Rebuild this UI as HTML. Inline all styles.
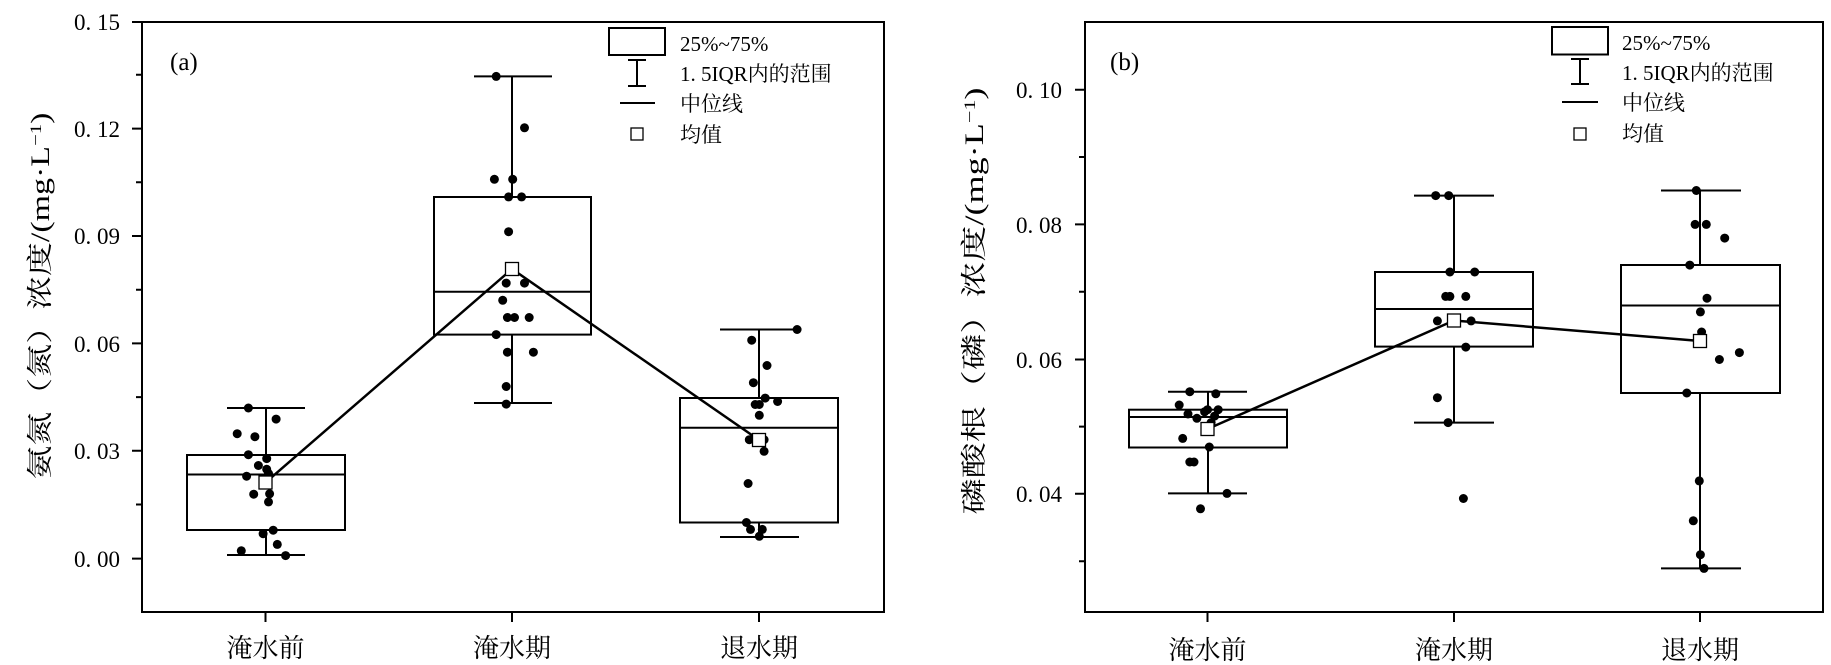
<!DOCTYPE html>
<html><head><meta charset="utf-8"><style>
html,body{margin:0;padding:0;background:#fff;}
svg{display:block;}
text{fill:#000;}
.t{font-family:"Liberation Serif","Noto Serif CJK SC",serif;font-size:23px;}
.c{font-family:"Liberation Serif","Noto Serif CJK SC",serif;font-size:26px;}
.l{font-family:"Liberation Serif","Noto Serif CJK SC",serif;font-size:21px;}
.y{font-family:"Liberation Serif","Noto Serif CJK SC",serif;font-size:26px;}
</style></head><body>
<svg width="1831" height="665" viewBox="0 0 1831 665" xmlns="http://www.w3.org/2000/svg">
<g stroke="#000" stroke-width="2" fill="none">
<rect x="142" y="22" width="742" height="590"/>
<path d="M132 22H142M132 128.6H142M132 236H142M132 343.4H142M132 450.8H142M132 558.6H142M136 74.8H142M136 182.3H142M136 289.7H142M136 397.1H142M136 504.5H142"/>
<path d="M265.5 612V622M512 612V622M759 612V622"/>
<rect x="187" y="455" width="158" height="75"/>
<path d="M187 474.5H345M266 455V408M266 530V555M227 408H305M227 555H305"/>
<rect x="434" y="197" width="157" height="137.6"/>
<path d="M434 291.7H591M512 197V76.4M512 334.6V403M474 76.4H552M474 403H552"/>
<rect x="680" y="398" width="158" height="124.5"/>
<path d="M680 427.7H838M759 398V329.5M759 522.5V537M720 329.5H799M720 537H799"/>
<path d="M265.5 482.6L512 269L759 440" stroke-width="2.5"/>
<rect x="609" y="28" width="56" height="27"/>
<path d="M637 60V86M628 60H646M628 86H646M620 103H655"/>
<rect x="1085" y="22" width="738" height="590"/>
<path d="M1075 89.7H1085M1075 224.4H1085M1075 359.5H1085M1075 493.8H1085M1079 157H1085M1079 291.7H1085M1079 426.6H1085M1079 561.3H1085"/>
<path d="M1207.5 612V622M1454 612V622M1700 612V622"/>
<rect x="1129" y="409.7" width="158" height="37.8"/>
<path d="M1129 417H1287M1208 409.7V391.7M1208 447.5V493.4M1168 391.7H1247M1168 493.4H1247"/>
<rect x="1375" y="272" width="158" height="74.6"/>
<path d="M1375 309H1533M1454 272V195.6M1454 346.6V422.6M1414 195.6H1494M1414 422.6H1494"/>
<rect x="1621" y="265" width="159" height="128"/>
<path d="M1621 305.5H1780M1700 265V190.5M1700 393V568.4M1661 190.5H1741M1661 568.4H1741"/>
<path d="M1207.5 429L1454 320.5L1700 341" stroke-width="2.5"/>
<rect x="1552" y="27" width="56" height="27.5"/>
<path d="M1580 59V84M1571 59H1589M1571 84H1589M1562 102H1598"/>
</g>
<g fill="#000">
<circle cx="248.4" cy="408" r="4.5"/><circle cx="276.1" cy="419.1" r="4.5"/><circle cx="237.2" cy="433.7" r="4.5"/><circle cx="254.9" cy="436.7" r="4.5"/><circle cx="248.4" cy="454.7" r="4.5"/><circle cx="266.7" cy="458.6" r="4.5"/><circle cx="258.4" cy="465.5" r="4.5"/><circle cx="266.7" cy="469.3" r="4.5"/><circle cx="246.6" cy="476.2" r="4.5"/><circle cx="268.5" cy="473.6" r="4.5"/><circle cx="253.7" cy="494.2" r="4.5"/><circle cx="269.6" cy="493.8" r="4.5"/><circle cx="268.5" cy="501.9" r="4.5"/><circle cx="273.2" cy="530.2" r="4.5"/><circle cx="263.1" cy="533.7" r="4.5"/><circle cx="277.3" cy="544.4" r="4.5"/><circle cx="241.3" cy="550.8" r="4.5"/><circle cx="285.6" cy="555.6" r="4.5"/>
<circle cx="496.2" cy="76.4" r="4.5"/><circle cx="524.5" cy="127.8" r="4.5"/><circle cx="494.4" cy="179.3" r="4.5"/><circle cx="512.7" cy="179.3" r="4.5"/><circle cx="508.6" cy="196.9" r="4.5"/><circle cx="521.6" cy="196.9" r="4.5"/><circle cx="508.6" cy="231.7" r="4.5"/><circle cx="506.2" cy="283.1" r="4.5"/><circle cx="524.5" cy="283.1" r="4.5"/><circle cx="502.7" cy="300.3" r="4.5"/><circle cx="507.4" cy="317.5" r="4.5"/><circle cx="514.5" cy="317.5" r="4.5"/><circle cx="529.2" cy="317.5" r="4.5"/><circle cx="496.2" cy="334.6" r="4.5"/><circle cx="507.4" cy="352.2" r="4.5"/><circle cx="533.4" cy="352.2" r="4.5"/><circle cx="506.2" cy="386.5" r="4.5"/><circle cx="506.2" cy="404.1" r="4.5"/>
<circle cx="797.1" cy="329.5" r="4.5"/><circle cx="751.7" cy="340.2" r="4.5"/><circle cx="767" cy="365.5" r="4.5"/><circle cx="753.4" cy="382.7" r="4.5"/><circle cx="765.2" cy="398.1" r="4.5"/><circle cx="777.6" cy="401.5" r="4.5"/><circle cx="755.2" cy="404.5" r="4.5"/><circle cx="759.3" cy="404.5" r="4.5"/><circle cx="759.3" cy="415.3" r="4.5"/><circle cx="749.3" cy="439.7" r="4.5"/><circle cx="764.1" cy="439.7" r="4.5"/><circle cx="764.1" cy="451.3" r="4.5"/><circle cx="748.1" cy="483.5" r="4.5"/><circle cx="746.4" cy="522.5" r="4.5"/><circle cx="750.5" cy="529.4" r="4.5"/><circle cx="762.3" cy="529.4" r="4.5"/><circle cx="759.3" cy="536.3" r="4.5"/>
<circle cx="1189.8" cy="391.7" r="4.5"/><circle cx="1215.8" cy="393.8" r="4.5"/><circle cx="1179.2" cy="405" r="4.5"/><circle cx="1188" cy="414" r="4.5"/><circle cx="1196.9" cy="418.3" r="4.5"/><circle cx="1207.5" cy="409.7" r="4.5"/><circle cx="1218.2" cy="409.7" r="4.5"/><circle cx="1204.6" cy="411.8" r="4.5"/><circle cx="1214.6" cy="416.1" r="4.5"/><circle cx="1211.1" cy="422.6" r="4.5"/><circle cx="1182.7" cy="438.4" r="4.5"/><circle cx="1209.3" cy="447" r="4.5"/><circle cx="1189.8" cy="462" r="4.5"/><circle cx="1194" cy="462" r="4.5"/><circle cx="1227" cy="493.4" r="4.5"/><circle cx="1200.5" cy="508.8" r="4.5"/>
<circle cx="1435.7" cy="195.6" r="4.5"/><circle cx="1448.7" cy="195.6" r="4.5"/><circle cx="1449.9" cy="272" r="4.5"/><circle cx="1474.7" cy="272" r="4.5"/><circle cx="1445.7" cy="296.4" r="4.5"/><circle cx="1449.9" cy="296.4" r="4.5"/><circle cx="1465.8" cy="296.4" r="4.5"/><circle cx="1437.4" cy="320.9" r="4.5"/><circle cx="1455.2" cy="320.9" r="4.5"/><circle cx="1471.1" cy="320.9" r="4.5"/><circle cx="1465.8" cy="347.1" r="4.5"/><circle cx="1437.4" cy="397.7" r="4.5"/><circle cx="1448.1" cy="422.6" r="4.5"/><circle cx="1463.4" cy="498.5" r="4.5"/>
<circle cx="1696.3" cy="190.5" r="4.5"/><circle cx="1695.1" cy="224.4" r="4.5"/><circle cx="1706.3" cy="224.4" r="4.5"/><circle cx="1724.7" cy="238.1" r="4.5"/><circle cx="1689.8" cy="265.1" r="4.5"/><circle cx="1707" cy="298.2" r="4.5"/><circle cx="1700.4" cy="311.9" r="4.5"/><circle cx="1701.6" cy="332" r="4.5"/><circle cx="1739.4" cy="352.6" r="4.5"/><circle cx="1719.4" cy="359.5" r="4.5"/><circle cx="1686.8" cy="393" r="4.5"/><circle cx="1699.3" cy="480.9" r="4.5"/><circle cx="1693.3" cy="520.8" r="4.5"/><circle cx="1700.4" cy="554.7" r="4.5"/><circle cx="1704" cy="568.4" r="4.5"/>
</g>
<g fill="#fff" stroke="#000" stroke-width="1.3">
<rect x="259" y="476" width="13" height="13"/><rect x="505.5" y="262.5" width="13" height="13"/><rect x="752.5" y="433.5" width="13" height="13"/>
<rect x="631" y="128" width="12" height="12"/>
<rect x="1201" y="422.5" width="13" height="13"/><rect x="1447.5" y="314" width="13" height="13"/><rect x="1693.5" y="334.5" width="13" height="13"/>
<rect x="1574" y="128" width="12" height="12"/>
</g>
<g class="t" text-anchor="end">
<text x="120" y="30">0. 15</text><text x="120" y="137">0. 12</text><text x="120" y="244">0. 09</text><text x="120" y="352">0. 06</text><text x="120" y="459">0. 03</text><text x="120" y="567">0. 00</text>
<text x="1062" y="98">0. 10</text><text x="1062" y="233">0. 08</text><text x="1062" y="368">0. 06</text><text x="1062" y="502">0. 04</text>
</g>
<g class="c" text-anchor="middle">
<text x="265.5" y="657">淹水前</text><text x="512" y="657">淹水期</text><text x="759" y="657">退水期</text>
<text x="1207.5" y="659">淹水前</text><text x="1454" y="659">淹水期</text><text x="1700" y="659">退水期</text>
</g>
<text x="170" y="70" style="font-family:'Liberation Serif',serif;font-size:25px">(a)</text>
<text x="1110" y="70" style="font-family:'Liberation Serif',serif;font-size:25px">(b)</text>
<g class="l">
<text x="680" y="51">25%~75%</text><text x="680" y="81">1. 5IQR内的范围</text><text x="680" y="111">中位线</text><text x="680" y="142">均值</text>
<text x="1622" y="50">25%~75%</text><text x="1622" y="80">1. 5IQR内的范围</text><text x="1622" y="110">中位线</text><text x="1622" y="141">均值</text>
</g>
<text class="y" transform="translate(49,296) rotate(-90)" text-anchor="middle" textLength="367" lengthAdjust="spacingAndGlyphs">氨氮（氮）浓度/(mg·L<tspan baseline-shift="super" font-size="16">−1</tspan>)</text>
<text class="y" transform="translate(983,301) rotate(-90)" text-anchor="middle" textLength="427" lengthAdjust="spacingAndGlyphs">磷酸根（磷）浓度/(mg·L<tspan baseline-shift="super" font-size="16">−1</tspan>)</text>
</svg>
</body></html>
